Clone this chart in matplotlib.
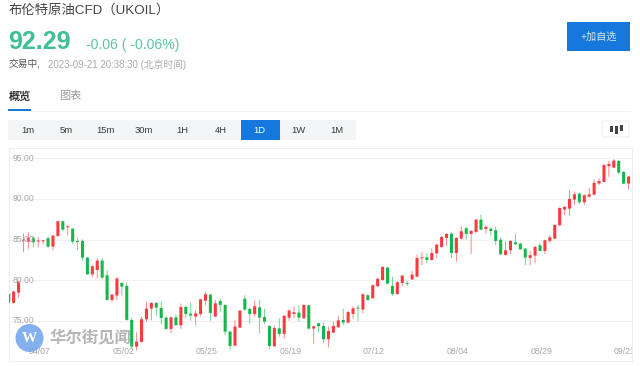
import numpy as np
import matplotlib
matplotlib.use("Agg")
import matplotlib.pyplot as plt
from matplotlib.patches import Rectangle, FancyBboxPatch, Circle

plt.rcParams['font.family'] = ['Liberation Sans', 'Noto Sans CJK SC', 'DejaVu Sans']

# daily candles
opens = [78.32,77.22,78.49,84.88,84.76,85.21,84.76,84.80,85.17,84.14,85.45,87.26,86.52,86.35,84.80,84.84,82.79,80.74,81.27,82.42,
         80.62,77.58,78.12,79.67,79.31,75.13,71.85,72.42,75.21,76.52,77.22,76.60,75.41,74.02,75.45,74.47,76.72,75.90,75.54,75.86,
         77.50,78.24,75.54,77.46,76.97,73.69,71.97,74.18,77.75,76.48,75.86,76.68,75.49,74.39,71.89,74.10,73.41,75.41,75.86,76.03,
         75.33,76.93,74.06,74.72,74.39,72.75,73.57,74.23,75.13,74.80,75.86,76.60,76.40,78.16,77.79,79.27,80.04,81.56,79.31,78.32,
         79.67,79.63,80.12,80.45,82.71,82.83,82.50,83.32,84.10,85.21,85.74,83.36,85.12,86.39,85.70,85.94,87.46,86.31,86.35,86.15,
         85.00,83.12,83.69,84.67,84.51,83.89,82.75,83.04,84.30,83.61,84.84,85.12,86.76,88.69,88.81,89.92,90.66,89.59,90.29,90.53,
         91.89,92.09,94.02,93.85,94.67,93.32,91.89]
closes = [77.26,78.61,79.84,85.00,85.25,84.67,84.84,84.88,84.14,85.49,87.26,86.23,86.60,84.76,84.72,82.79,80.74,81.72,82.42,80.33,
          77.58,78.24,80.21,79.22,75.13,71.85,72.46,75.21,76.52,77.22,76.64,75.37,74.02,75.45,74.47,76.72,75.86,75.66,75.94,77.67,
          78.28,75.99,77.17,76.97,73.69,71.93,74.31,76.27,76.40,75.86,76.81,75.41,74.92,71.93,74.14,73.41,75.62,76.27,76.07,75.41,
          76.97,74.06,74.35,74.35,72.75,73.77,74.39,75.08,74.80,76.11,76.56,76.52,78.28,77.58,79.39,80.17,81.64,79.59,78.32,79.76,
          80.58,79.55,80.70,82.75,82.83,82.50,83.36,84.39,85.33,85.70,83.36,85.21,86.03,85.70,86.07,87.46,86.23,86.56,86.07,84.84,
          83.20,83.69,84.84,84.43,83.81,82.79,83.08,84.10,83.61,84.92,85.29,86.80,88.89,89.02,90.00,90.57,89.59,90.45,90.57,91.97,
          92.21,94.18,94.30,94.71,93.24,91.89,92.75]
highs = [78.40,78.73,79.92,85.78,85.90,85.49,85.33,84.96,85.41,85.58,87.34,87.34,86.76,86.39,85.25,85.04,82.87,81.89,82.71,82.79,
         81.23,78.32,80.41,79.76,79.67,75.41,73.61,75.54,77.38,77.30,77.38,77.38,75.66,75.54,75.86,77.13,76.89,77.30,76.31,77.71,
         78.61,78.32,77.58,77.67,77.05,73.77,75.13,76.35,78.16,76.64,77.54,77.58,76.48,74.47,74.47,75.33,75.74,76.48,76.81,76.97,
         77.05,77.01,74.43,74.80,74.80,74.31,74.92,75.66,76.48,76.19,76.81,76.97,78.40,78.32,79.47,80.37,81.72,81.64,80.41,79.92,
         80.66,79.92,81.15,83.12,83.44,83.32,83.94,84.47,85.45,85.78,85.90,85.29,86.64,86.56,86.15,87.54,88.07,86.72,86.56,86.60,
         85.29,84.76,84.92,85.74,84.63,83.98,83.57,84.22,84.55,85.00,85.58,86.89,88.98,89.14,91.11,90.90,90.78,90.57,91.39,92.38,
         92.54,94.26,94.67,94.88,94.75,93.40,92.83]
lows = [77.20,77.13,77.87,83.44,83.85,84.02,84.02,84.43,84.02,83.69,85.37,86.03,85.49,84.47,83.73,82.42,80.66,80.41,80.25,80.13,
        77.50,77.30,77.54,78.12,75.04,71.64,71.36,72.34,74.92,75.08,75.66,74.59,73.94,73.45,74.43,74.02,75.41,75.04,74.51,75.62,
        76.97,75.04,75.45,76.15,73.28,71.44,71.93,74.10,76.31,74.64,75.54,73.49,74.64,71.52,71.85,73.08,72.83,75.04,75.33,74.92,
        75.25,73.98,72.17,73.61,72.26,71.77,73.49,74.14,74.51,74.72,75.25,74.96,75.94,77.50,77.75,79.18,79.96,79.51,78.12,78.20,
        79.26,79.26,80.04,80.37,81.89,82.09,82.42,82.79,84.02,84.26,82.71,82.30,85.04,84.96,83.24,85.82,86.15,85.74,85.49,84.35,
        83.12,83.03,83.24,84.35,83.73,81.85,81.85,82.09,83.53,83.20,84.55,85.04,86.68,88.03,87.95,89.26,89.39,89.26,90.17,90.45,
        91.72,92.01,92.71,93.77,93.03,91.80,91.15]

y_ticks = [75, 80, 85, 90, 95]
date_pos = [6, 23, 40, 57, 74, 91, 108, 125]
date_labels = ["04/07", "05/02", "05/25", "06/19", "07/12", "08/04", "08/29", "09/21"]
periods = ["1m", "5m", "15m", "30m", "1H", "4H", "1D", "1W", "1M"]

RED = "#fa3a40"
GREEN = "#14b84a"
BLUE = "#1677dc"
W, H = 640, 366

fig = plt.figure(figsize=(6.4, 3.66), dpi=100)

# page furniture, in pixel coordinates
ui = fig.add_axes([0, 0, 1, 1])
ui.set_xlim(0, W)
ui.set_ylim(H, 0)
ui.axis("off")

ui.text(9, 10, "布伦特原油CFD（UKOIL）", fontsize=9.6, color="#444444", va="center")
ui.text(8.5, 42, "92.29", fontsize=18, fontweight="bold", color="#3fbf95", va="center")
ui.text(86, 45, "-0.06 ( -0.06%)", fontsize=10.1, color="#5cc5a5", va="center")
ui.text(9, 64, "交易中,", fontsize=7, color="#555555", va="center")
ui.text(48, 64.5, "2023-09-21 20:38:30 (北京时间)", fontsize=7, color="#aaaaaa", va="center")
ui.text(9, 96.5, "概览", fontsize=8, color="#333333", fontweight="bold", va="center")
ui.text(59, 96.5, "图表", fontsize=8, color="#9a9a9a", va="center")
ui.add_patch(Rectangle((8, 108.5), 23, 2, color=BLUE, lw=0))
ui.plot([31, 630], [111, 111], color="#f1f1f1", lw=0.7)

ui.add_patch(Rectangle((8, 120), 348, 20, color="#f4f5f6", lw=0))
ui.add_patch(Rectangle((240.5, 120), 39, 20, color=BLUE, lw=0))
for k, lab in enumerate(periods):
    ui.text(28 + k * 38.6, 130.5, lab, fontsize=6.8, ha="center", va="center",
            color="#ffffff" if lab == "1D" else "#3a3a3a")

ui.add_patch(Rectangle((567, 22), 63, 29, color=BLUE, lw=0))
ui.text(598.5, 37, "+加自选", fontsize=7.3, color="#d8e8fa", ha="center", va="center")

# candle style switch icon
ui.add_patch(FancyBboxPatch((602, 121), 27, 16, boxstyle="round,pad=0,rounding_size=1.5",
                            fc="#ffffff", ec="#eeeff2", lw=0.8))
for ix, y0, y1 in [(611, 126, 132), (616, 126, 134), (621, 125, 131)]:
    ui.add_patch(Rectangle((ix - 1.5, y0), 3, y1 - y0, color="#444444", lw=0))

# chart
ax = fig.add_axes([8.7 / W, 1 - 361 / H, (632 - 8.7) / W, (361 - 148.5) / H])
ax.set_xlim(0, 126.7)
ax.set_ylim(70.08, 96.2)
ax.patch.set_alpha(0)
for s in ax.spines.values():
    s.set_color("#eeeeee")
    s.set_linewidth(0.8)
ax.set_xticks([])
ax.set_yticks([])
for t in y_ticks:
    ax.axhline(t, color="#f1f1f1", lw=0.8, zorder=1)
    ax.text(0.8, t, f"{t:.2f}", fontsize=6.2, color="#a8a8a8", va="center", zorder=5)
for p, lab in zip(date_pos, date_labels):
    ax.text(p + 0.25, 71.25, lab, fontsize=6.3, color="#a8a8a8", ha="center", va="center",
            clip_on=True, zorder=5)

o = np.array(opens)
c = np.array(closes)
hi = np.array(highs)
lo = np.array(lows)
x = np.arange(len(o))
cols = [RED if b >= a else GREEN for a, b in zip(o, c)]
wicks = ax.vlines(x, lo, hi, colors=cols, lw=0.65, alpha=0.65, zorder=2)
wicks.set_snap(False)
bars = ax.bar(x, np.maximum(np.abs(c - o), 0.12), bottom=np.minimum(o, c), width=0.62,
              color=cols, lw=0, zorder=3)
for b in bars:
    b.set_snap(False)

# watermark on top of everything
top = fig.add_axes([0, 0, 1, 1])
top.set_xlim(0, W)
top.set_ylim(H, 0)
top.axis("off")
top.add_patch(Circle((29.5, 338), 14, color="#6fa3ee", alpha=0.85, lw=0))
top.text(29.5, 338, "W", fontsize=11, color="#ffffff", fontweight="bold", family="Liberation Serif",
         ha="center", va="center")
top.text(49.5, 337.5, "华尔街见闻", fontsize=11.8, color="#a3a3a3", alpha=0.8, fontweight="bold",
         family=["Noto Sans CJK SC"], va="center")

fig.savefig("out.png", dpi=100)
